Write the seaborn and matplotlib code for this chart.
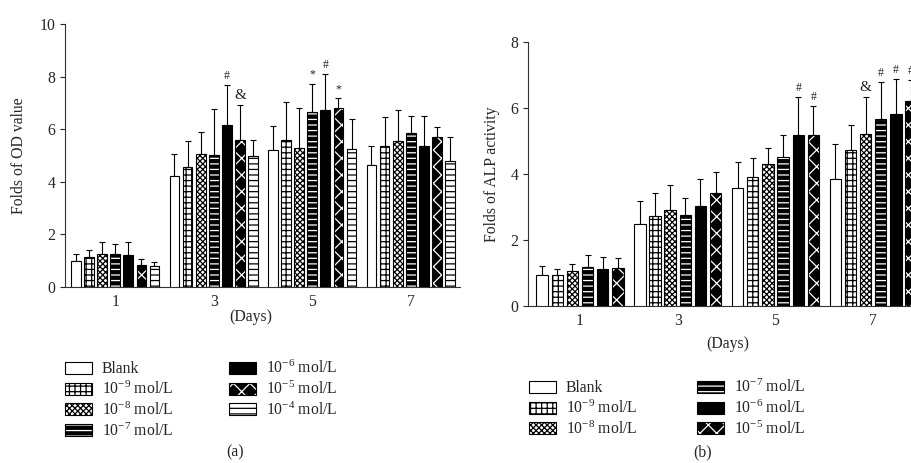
import numpy as np
import pandas as pd
import matplotlib
matplotlib.use("Agg")
import matplotlib.pyplot as plt
import matplotlib.patches as mpatches
import seaborn as sns

# ---------------- data ----------------
days = ["1", "3", "5", "7"]
conc_a = ["Blank", "1e-9", "1e-8", "1e-7", "1e-6", "1e-5", "1e-4"]
conc_b = ["Blank", "1e-9", "1e-8", "1e-7", "1e-6", "1e-5"]
labels = {"Blank": "Blank", "1e-9": r"10$^{-9}$ mol/L", "1e-8": r"10$^{-8}$ mol/L",
          "1e-7": r"10$^{-7}$ mol/L", "1e-6": r"10$^{-6}$ mol/L",
          "1e-5": r"10$^{-5}$ mol/L", "1e-4": r"10$^{-4}$ mol/L"}

# (a) OD values: rows = concentration, columns = days
od_mean = {
    "Blank": [1.00, 4.22, 5.20, 4.65],
    "1e-9": [1.15, 4.55, 5.58, 5.35],
    "1e-8": [1.25, 5.05, 5.30, 5.55],
    "1e-7": [1.25, 5.02, 6.65, 5.85],
    "1e-6": [1.20, 6.15, 6.72, 5.38],
    "1e-5": [0.85, 5.58, 6.80, 5.70],
    "1e-4": [0.78, 4.97, 5.25, 4.78],
}
od_err = {
    "Blank": [0.25, 0.83, 0.92, 0.70],
    "1e-9": [0.25, 1.00, 1.47, 1.10],
    "1e-8": [0.47, 0.85, 1.50, 1.17],
    "1e-7": [0.40, 1.73, 1.07, 0.67],
    "1e-6": [0.52, 1.53, 1.38, 1.14],
    "1e-5": [0.20, 1.34, 0.38, 0.37],
    "1e-4": [0.17, 0.61, 1.13, 0.94],
}
# (b) ALP activity
alp_mean = {
    "Blank": [0.95, 2.50, 3.58, 3.85],
    "1e-9": [0.95, 2.73, 3.90, 4.72],
    "1e-8": [1.05, 2.92, 4.30, 5.22],
    "1e-7": [1.17, 2.77, 4.52, 5.68],
    "1e-6": [1.13, 3.02, 5.18, 5.83],
    "1e-5": [1.15, 3.42, 5.17, 6.20],
}
alp_err = {
    "Blank": [0.25, 0.68, 0.77, 1.05],
    "1e-9": [0.17, 0.69, 0.60, 0.76],
    "1e-8": [0.23, 0.76, 0.48, 1.10],
    "1e-7": [0.38, 0.51, 0.66, 1.10],
    "1e-6": [0.35, 0.83, 1.15, 1.05],
    "1e-5": [0.30, 0.63, 0.90, 0.65],
}
# significance marks: (day index, concentration, symbol)
marks_a = [(1, "1e-6", "#"), (1, "1e-5", "&"), (2, "1e-7", "*"), (2, "1e-6", "#"), (2, "1e-5", "*")]
marks_b = [(2, "1e-6", "#"), (2, "1e-5", "#"), (3, "1e-8", "&"),
           (3, "1e-7", "#"), (3, "1e-6", "#"), (3, "1e-5", "#")]

# ---------------- styles ----------------
styles = {
    "Blank": dict(fc="white", hatch=None, hc="black"),
    "1e-9": dict(fc="white", hatch="+++", hc="black"),
    "1e-8": dict(fc="white", hatch="xxxxxx", hc="black"),
    "1e-7": dict(fc="black", hatch="---", hc="white"),
    "1e-6": dict(fc="black", hatch=None, hc="black"),
    "1e-5": dict(fc="black", hatch="xx", hc="white"),
    "1e-4": dict(fc="white", hatch="---", hc="black"),
}

sns.set_style("ticks")
plt.rcParams["font.family"] = ["Liberation Serif", "DejaVu Serif"]
plt.rcParams["mathtext.fontset"] = "custom"
plt.rcParams["mathtext.rm"] = "Liberation Serif"
plt.rcParams["mathtext.it"] = "Liberation Serif:italic"
plt.rcParams["hatch.linewidth"] = 0.9
plt.rcParams["axes.edgecolor"] = "#333333"

FS = 11.3
W, H = 911, 463
fig = plt.figure(figsize=(W / 100, H / 100), dpi=100)


def style_patch(p, key):
    st = styles[key]
    p.set_facecolor(st["fc"])
    p.set_edgecolor("black")
    p.set_linewidth(0.8)
    if st["hatch"]:
        p.set_hatch(st["hatch"])
    p._hatch_color = matplotlib.colors.to_rgba(st["hc"])


def make_panel(ax, concs, mean, err, marks, ymax, ylabel):
    rows = []
    for c in concs:
        for i, d in enumerate(days):
            rows.append(dict(day=d, conc=c, value=mean[c][i], err=err[c][i]))
    df = pd.DataFrame(rows)
    sns.barplot(data=df, x="day", y="value", hue="conc", hue_order=concs, order=days,
                palette=["white"] * len(concs), width=0.93, gap=0.25, errorbar=None,
                legend=False, ax=ax, zorder=3)
    for ci, c in enumerate(concs):
        cont = ax.containers[ci]
        xs, hs = [], []
        for di, p in enumerate(cont.patches):
            style_patch(p, c)
            xs.append(p.get_x() + p.get_width() / 2)
            hs.append(p.get_height())
        e = np.array(err[c])
        ax.errorbar(xs, hs, yerr=[np.zeros_like(e), e], fmt="none", ecolor="black",
                    elinewidth=0.8, capsize=2.0, capthick=0.8, zorder=2)
        for (di, mc, sym) in marks:
            if mc == c:
                fs = 11 if sym == "&" else 8.5
                ax.text(xs[di], hs[di] + e[di] + ymax * 0.012, sym, ha="center",
                        va="bottom", fontsize=fs, color="#222222")
    ax.set_ylim(0, ymax)
    ax.set_yticks(np.arange(0, ymax + 0.1, 2))
    ax.set_xlabel("(Days)", fontsize=FS)
    ax.set_ylabel(ylabel, fontsize=FS)
    ax.tick_params(axis="x", length=0, labelsize=FS, pad=5)
    ax.tick_params(axis="y", length=3.5, width=0.8, labelsize=FS, direction="out")
    for s in ["top", "right"]:
        ax.spines[s].set_visible(False)
    for s in ["left", "bottom"]:
        ax.spines[s].set_linewidth(0.8)


# panel (a)
ax1 = fig.add_axes([65 / W, (H - 287) / H, 395 / W, (287 - 24) / H])
make_panel(ax1, conc_a, od_mean, od_err, marks_a, 10, "Folds of OD value")
ax1.set_xlim(-0.51, 3.5)
ax1.xaxis.set_label_coords(0.47, -0.085)
ax1.yaxis.set_label_coords(-0.095, 0.5)

# panel (b)
ax2 = fig.add_axes([528 / W, (H - 306) / H, 399 / W, (306 - 42) / H])
make_panel(ax2, conc_b, alp_mean, alp_err, marks_b, 8, "Folds of ALP activity")
ax2.set_xlim(-0.532, 3.55)
ax2.xaxis.set_label_coords(0.50, -0.115)
ax2.yaxis.set_label_coords(-0.07, 0.5)

# legends
def add_legend(concs, anchor, colsp):
    handles = [mpatches.Patch(label=labels[c]) for c in concs]
    for h, c in zip(handles, concs):
        style_patch(h, c)
    leg = fig.legend(handles=handles, ncol=2, loc="upper left", bbox_to_anchor=anchor,
                     frameon=False, fontsize=FS, handlelength=1.75, handleheight=0.8,
                     handletextpad=0.6, columnspacing=colsp, labelspacing=0.22,
                     borderpad=0, borderaxespad=0)
    for p, c in zip(leg.get_patches(), concs):
        style_patch(p, c)
    return leg

add_legend(conc_a, (65 / W, 1 - 360 / H), 3.55)
add_legend(conc_b, (529 / W, 1 - 379 / H), 3.8)

fig.text(235 / W, 1 - 452 / H, "(a)", ha="center", va="center", fontsize=FS)
fig.text(703 / W, 1 - 452 / H, "(b)", ha="center", va="center", fontsize=FS)

fig.savefig("out.png", dpi=100)
